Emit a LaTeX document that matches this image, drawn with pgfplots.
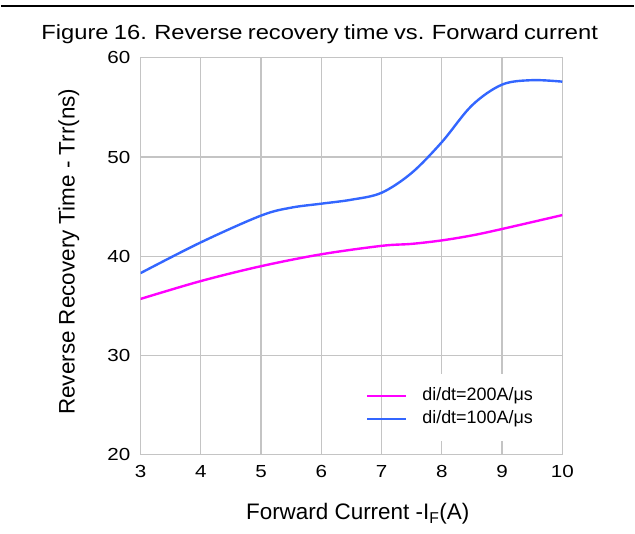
\documentclass[border=0pt]{standalone}
\usepackage{fontspec}
\setmainfont{Liberation Sans}
\newfontfamily\widefont{Liberation Sans}[FakeStretch=1.18]
\newfontfamily\titlefont{Liberation Sans}[FakeStretch=1.16, WordSpace=0.8]
\usepackage{pgfplots}
\pgfplotsset{compat=1.18}
\definecolor{gridgray}{RGB}{196,196,196}
\definecolor{curveblue}{RGB}{51,102,255}
\definecolor{curvemag}{RGB}{255,0,255}
\begin{document}
\begin{tikzpicture}
\begin{axis}[
  at={(0,0)}, anchor=south west,
  scale only axis, width=423bp, height=398bp,
  xmin=3, xmax=10, ymin=20, ymax=60,
  xtick={3,4,5,6,7,8,9,10}, ytick={20,30,40,50,60},
  grid=major,
  major grid style={gridgray, line width=1.2bp},
  axis line style={gridgray, line width=1.2bp},
  major tick length=0pt,
  /pgf/number format/assume math mode=true,
  tick label style={font=\widefont\fontsize{17.5bp}{20bp}\selectfont, inner sep=0pt},
  xticklabel style={yshift=-10.7bp},
  yticklabel style={xshift=-10bp},
  xlabel={Forward Current -I\textsubscript{F}(A)},
  xlabel style={font=\fontsize{22.5bp}{27bp}\selectfont, at={(axis description cs:0.515,0)}, anchor=base, yshift=-65bp, inner sep=0pt},
  ylabel={Reverse Recovery Time - Trr(ns)},
  ylabel style={font=\fontsize{22.5bp}{27bp}\selectfont, at={(axis description cs:-0.156,0.5116)}, anchor=base, inner sep=0pt},
  legend cell align=left,
  legend image code/.code={\draw[#1] (0bp,0bp) -- (39bp,0bp);},
  legend style={at={(axis cs:6.74,24.77)}, anchor=west, draw=none, fill=none,
    inner sep=0pt, font=\fontsize{18bp}{21bp}\selectfont,
    nodes={inner sep=0pt, text height=13bp, text depth=4bp},
    row sep=6bp, column sep=15bp},
]
\fill[white] (axis cs:7.47,28.14) rectangle (axis cs:9.87,21.4);
\addplot[curvemag, line width=2.4bp, smooth, tension=0.55] coordinates {
  (3,35.7) (4,37.5) (5,39.0) (6,40.2) (7,41.05) (7.5,41.25) (8,41.6) (8.5,42.1) (9,42.75) (10,44.15)
};
\addlegendentry{di/dt=200A/μs}
\addplot[curveblue, line width=2.4bp, smooth, tension=0.55] coordinates {
  (3,38.3) (4,41.4) (5,44.1) (5.5,44.9) (6,45.3) (6.5,45.7) (7,46.4) (7.5,48.4) (8,51.5) (8.5,55.2) (9,57.3) (9.5,57.75) (10,57.6)
};
\addlegendentry{di/dt=100A/μs}
\end{axis}
\draw[black, line width=1.8bp] (-140bp,450bp) -- (495bp,450bp);
\node[anchor=base, inner sep=0pt, font=\titlefont\fontsize{20.5bp}{24bp}\selectfont] at (179.7bp,416.7bp) {Figure 16. Reverse recovery time vs. Forward current};
\useasboundingbox (-140bp,-79bp) rectangle (495bp,456bp);
\end{tikzpicture}
\end{document}
